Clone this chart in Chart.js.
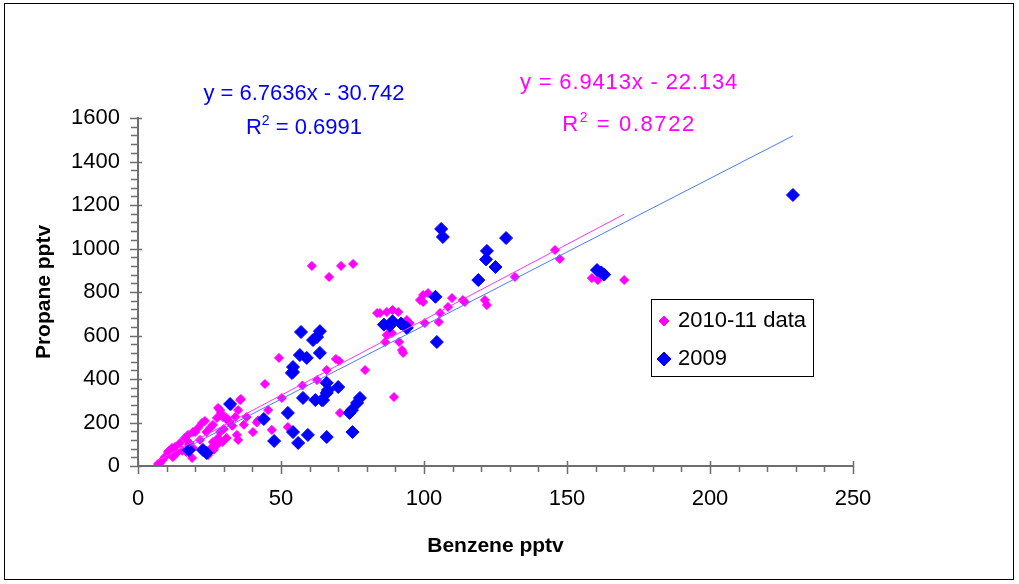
<!DOCTYPE html>
<html>
<head>
<meta charset="utf-8">
<script src="https://cdn.jsdelivr.net/npm/chart.js@4.4.1/dist/chart.umd.min.js"></script>
<style>
  body { margin: 0; background: #fff; }
  #wrap { position: relative; width: 1019px; height: 584px; }
  .eq { position: absolute; width: 320px; text-align: center; font: 22px "Liberation Sans", Arial, sans-serif; white-space: nowrap; }
  .eq sup { font-size: 14px; position: relative; top: -1px; }
  #eqBlue { left: 144px; top: 78px; color: #0000ff; line-height: 29px; }
  #eqPink { left: 469px; top: 63px; color: #ff00ff; line-height: 37px; }
  #eqPink .l1 { letter-spacing: 0.85px; }
  #eqPink .l2 { letter-spacing: 1.6px; }
</style>
</head>
<body>
<div id="wrap">
  <canvas id="chart" width="1019" height="584"></canvas>
  <div class="eq" id="eqBlue">y = 6.7636x - 30.742<br>R<sup>2</sup> = 0.6991</div>
  <div class="eq" id="eqPink"><span class="l1">y = 6.9413x - 22.134</span><br><span class="l2">R<sup>2</sup> = 0.8722</span></div>
</div>
<script>
// 2010-11 data (benzene / propane, pptv)
const benzene2010 = [7, 7.7, 8.5, 9.4, 10.5, 10.8, 11.9, 12.2, 12.9, 13.6, 14.7, 15.5, 16.4, 17, 17.5, 17.8, 18, 18.9, 19.2, 19.2,
  20, 21, 21.7, 22.4, 23.4, 24, 24.5, 25.2, 25.9, 26.2, 26.2, 26.5, 27.5, 27.6, 28, 28, 28.7, 28.7, 29, 29.5,
  29.7, 30, 31, 31, 31.5, 32, 32.5, 33, 34, 34.6, 35, 35, 35.7, 36, 37, 38, 40.2, 41.5, 42, 44.4,
  45.5, 46.8, 49.3, 50.3, 52.4, 57.5, 60.8, 62.6, 66, 66.8, 69.2, 70.3, 70.6, 71, 75.2, 79.4, 83.6, 84.6, 86.4, 87,
  87, 88.8, 89, 89.5, 91, 91.3, 92.3, 92.7, 94, 95, 98.6, 99.7, 99.7, 100.3, 101.4, 105.2, 105.6, 108.4, 109.8, 113.6,
  114.3, 121.3, 122, 131.8, 145.8, 147.5, 158.7, 160.8, 170];
const propane2010 = [9, 14, 25, 41, 64, 69, 83, 41, 87, 60, 106, 70, 129, 64, 143, 97, 106, 37, 156, 83,
  156, 175, 120, 198, 207, 156, 50, 175, 87, 189, 110, 75, 95, 221, 129, 267, 257, 156, 244, 110,
  225, 170, 221, 129, 207, 202, 276, 185, 225, 143, 120, 257, 303, 308, 190, 225, 156, 200, 210, 377,
  257, 166, 497, 313, 179, 370, 920, 395, 441, 869, 492, 483, 244, 920, 929, 441, 703, 703, 570, 708,
  602, 611, 717, 317, 708, 570, 533, 520, 671, 657, 763, 786, 754, 657, 795, 662, 703, 731, 772, 763,
  754, 763, 740, 869, 993, 952, 864, 855, 855];

// 2009 data
const benzene2009 = [229, 160.5, 162, 163, 106, 106.6, 128.7, 122, 121.7, 125, 119, 104, 104.5, 86, 88, 89, 92, 94,
  57, 63.6, 62.6, 61.2, 63.6, 56.6, 59, 54.2, 54.2, 53.8, 66, 66.4, 66, 64.7, 70, 57.7, 62, 64.3,
  77.6, 76.6, 74.8, 74, 32.2, 52.4, 44, 54.2, 56, 59.4, 66, 75, 47.6, 17.8, 22.7, 24];
const propane2009 = [1246, 901, 890, 880, 1090, 1053, 1048, 989, 950, 915, 855, 778, 570, 650, 645, 665, 655, 635,
  616, 620, 593, 579, 520, 510, 497, 455, 432, 428, 382, 349, 336, 303, 363, 313, 303, 303,
  313, 290, 257, 244, 285, 244, 216, 156, 106, 143, 133, 156, 115, 73, 74, 60];

// fitted lines as printed on the chart
const fit2010 = { slope: 6.9413, intercept: -22.134 };
const fit2009 = { slope: 6.7636, intercept: -30.742 };

const xTicks = { min: 0, max: 250, step: 50, minor: 10 };
const yTicks = { min: 0, max: 1600, step: 200, minor: 40 };

const PINK = "#ff00ff";
const BLUE = "#0000ff";
const AXIS = "#6e6e6e";
const FONT = '"Liberation Sans", Arial, sans-serif';

function toPoints(xs, ys) {
  return xs.map((x, i) => ({ x: x, y: ys[i] }));
}

function fitLine(xs, fit) {
  const lo = Math.min(...xs), hi = Math.max(...xs);
  return [
    { x: lo, y: fit.slope * lo + fit.intercept },
    { x: hi, y: fit.slope * hi + fit.intercept },
  ];
}

const decor = {
  id: "decor",
  beforeDraw(chart) {
    const ctx = chart.ctx;
    ctx.save();
    ctx.strokeStyle = "#000";
    ctx.lineWidth = 1;
    ctx.strokeRect(4.5, 3.5, 1009, 576);
    ctx.restore();
  },
  beforeDatasetsDraw(chart) {
    const { ctx } = chart;
    const xs = chart.scales.x, ys = chart.scales.y;
    const ay = ys.getPixelForValue(0), ax = xs.getPixelForValue(0);
    ctx.save();
    ctx.strokeStyle = AXIS;
    ctx.lineWidth = 1.5;
    ctx.beginPath();
    for (let v = xTicks.min; v <= xTicks.max; v += xTicks.minor) {
      const px = Math.round(xs.getPixelForValue(v)) + 0.5;
      const major = v % xTicks.step === 0;
      ctx.moveTo(px, major ? ay - 5 : ay);
      ctx.lineTo(px, ay + (major ? 8 : 6));
    }
    for (let v = yTicks.min; v <= yTicks.max; v += yTicks.minor) {
      const py = Math.round(ys.getPixelForValue(v)) + 0.5;
      const major = v % yTicks.step === 0;
      ctx.moveTo(ax - (major ? 8 : 7), py);
      ctx.lineTo(major ? ax + 4 : ax, py);
    }
    ctx.stroke();
    ctx.restore();
  },
  afterDraw(chart) {
    // legend box
    const ctx = chart.ctx;
    ctx.save();
    ctx.fillStyle = "#fff";
    ctx.fillRect(651, 299, 162, 77);
    ctx.strokeStyle = "#000";
    ctx.lineWidth = 1;
    ctx.strokeRect(651.5, 299.5, 162, 77);
    const items = [
      { text: "2010-11 data", color: PINK, r: 5, y: 321 },
      { text: "2009", color: BLUE, r: 7, y: 359 },
    ];
    ctx.font = "22px " + FONT;
    ctx.textBaseline = "middle";
    items.forEach((it) => {
      ctx.fillStyle = it.color;
      ctx.strokeStyle = it.color;
      Chart.helpers.drawPoint(ctx, { pointStyle: "rectRot", radius: it.r, rotation: 0, borderWidth: 1 }, 664, it.y);
      ctx.fillStyle = "#000";
      ctx.fillText(it.text, 678, it.y);
    });
    ctx.restore();
  },
};

Chart.defaults.font.family = FONT;

new Chart(document.getElementById("chart"), {
  type: "scatter",
  data: {
    datasets: [
      {
        label: "2010-11 trend",
        type: "line",
        data: fitLine(benzene2010, fit2010),
        showLine: true,
        borderColor: "#ff33ff",
        borderWidth: 1,
        pointRadius: 0,
        fill: false,
        order: 0,
      },
      {
        label: "2009 trend",
        type: "line",
        data: fitLine(benzene2009, fit2009),
        showLine: true,
        borderColor: "#4a7bff",
        borderWidth: 1,
        pointRadius: 0,
        fill: false,
        order: 0,
      },
      {
        label: "2009",
        data: toPoints(benzene2009, propane2009),
        pointStyle: "rectRot",
        pointRadius: 6.5,
        pointBackgroundColor: BLUE,
        pointBorderColor: BLUE,
        pointBorderWidth: 1,
        order: 1,
      },
      {
        label: "2010-11 data",
        data: toPoints(benzene2010, propane2010),
        pointStyle: "rectRot",
        pointRadius: 4.5,
        pointBackgroundColor: PINK,
        pointBorderColor: PINK,
        pointBorderWidth: 1,
        order: 2,
      },
    ],
  },
  options: {
    responsive: false,
    animation: false,
    devicePixelRatio: 1,
    layout: { padding: { left: 0, right: 166, top: 118, bottom: 0 } },
    plugins: { legend: { display: false }, tooltip: { enabled: false } },
    scales: {
      x: {
        type: "linear",
        min: xTicks.min,
        max: xTicks.max,
        ticks: { stepSize: xTicks.step, color: "#000", font: { size: 22 }, padding: 20, maxRotation: 0, callback: (v) => String(v) },
        grid: { display: false, drawTicks: false },
        border: { display: true, color: AXIS, width: 2 },
        title: { display: true, text: "Benzene pptv", color: "#000", font: { size: 21, weight: "bold" }, padding: { top: 0, bottom: 25 } },
        afterFit: (s) => { s.height = 118; },
      },
      y: {
        type: "linear",
        min: yTicks.min,
        max: yTicks.max,
        ticks: { stepSize: yTicks.step, color: "#000", font: { size: 22 }, padding: 18, callback: (v) => String(v) },
        grid: { display: false, drawTicks: false },
        border: { display: true, color: AXIS, width: 2 },
        title: { display: true, text: "Propane pptv", color: "#000", font: { size: 21, weight: "bold" }, padding: { top: 32, bottom: 0 } },
        afterFit: (s) => { s.width = 138; },
      },
    },
  },
  plugins: [decor],
});
</script>
</body>
</html>
